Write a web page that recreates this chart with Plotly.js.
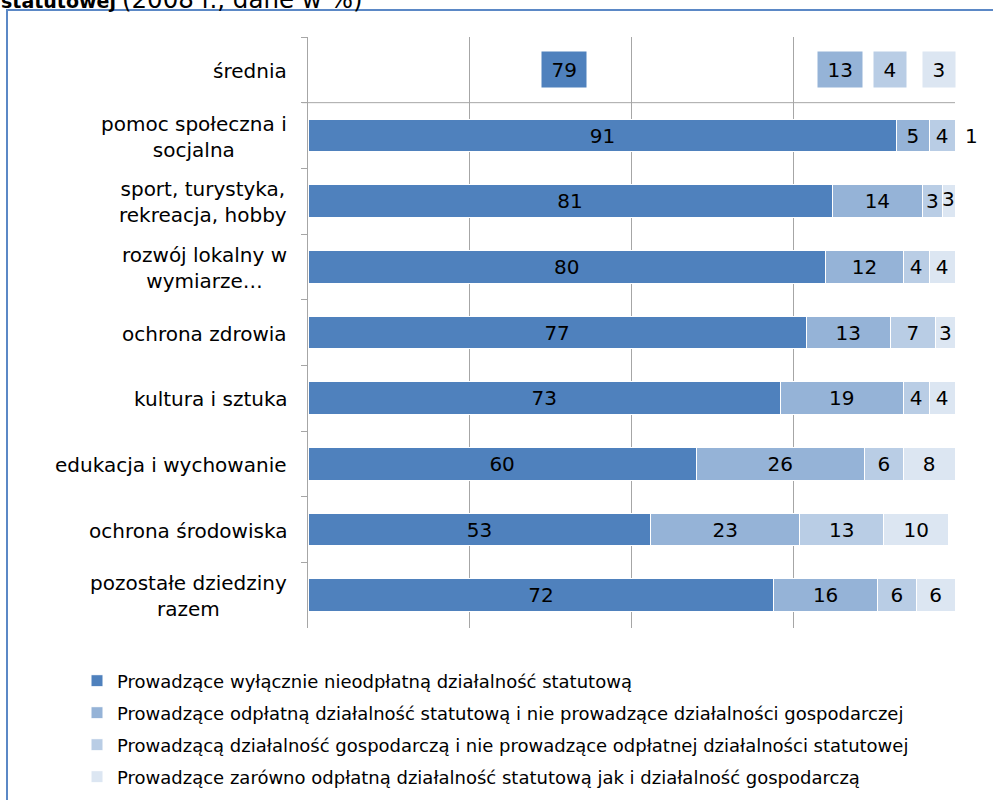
<!DOCTYPE html>
<html><head><meta charset="utf-8">
<script src="https://cdn.plot.ly/plotly-3.0.1.min.js"></script>
<style>html,body{margin:0;padding:0;background:#fff;overflow:hidden}#chart{width:993px;height:820px}</style>
</head><body><div id="chart"></div>
<script>
const categories = ["średnia","pomoc społeczna i<br>socjalna","sport, turystyka,<br>rekreacja, hobby","rozwój lokalny w<br>wymiarze…","ochrona zdrowia","kultura i sztuka","edukacja i wychowanie","ochrona środowiska","pozostałe dziedziny<br>razem"];
const seriesNames = [
  "Prowadzące wyłącznie nieodpłatną działalność statutową",
  "Prowadzące odpłatną działalność statutową i nie prowadzące działalności gospodarczej",
  "Prowadzącą działalność gospodarczą i nie prowadzące odpłatnej działalności statutowej",
  "Prowadzące zarówno odpłatną działalność statutową jak i działalność gospodarczą"
];
const nieodplatna = [79, 91, 81, 80, 77, 73, 60, 53, 72];
const odplatna = [13, 5, 14, 12, 13, 19, 26, 23, 16];
const gospodarcza = [4, 4, 3, 4, 7, 4, 6, 13, 6];
const obie = [3, 1, 3, 4, 3, 4, 8, 10, 6];

const series = [nieodplatna, odplatna, gospodarcza, obie];
const colors = ["#4F81BD", "#95B3D7", "#B9CDE5", "#DCE6F2"];
const FONT = "DejaVu Sans, Verdana, sans-serif";
const AXMAX = 100;
const H = 820, PB = 628, PT = 37, PH = PB - PT;

const barCats = categories.slice(1);
const annotations = [];
const traces = [];
series.forEach((vals, i) => {
  const v = vals.slice(1);
  const txt = [];
  v.forEach((val, j) => {
    let start = 0;
    for (let k = 0; k < i; k++) start += series[k][j + 1];
    if (start + val <= AXMAX) { txt.push(String(val)); return; }
    txt.push("");
    // segment (partly) beyond the axis end: label drawn as annotation
    if (start >= AXMAX) {
      annotations.push({xref: "x", yref: "y", x: AXMAX, y: barCats[j], xanchor: "left", xshift: 8,
        text: String(val), showarrow: false, font: {family: FONT, size: 20, color: "#000"}});
    } else {
      annotations.push({xref: "x", yref: "y", x: (start + AXMAX) / 2, y: barCats[j], yshift: 2,
        text: String(val), showarrow: false, font: {family: FONT, size: 20, color: "#000"}});
    }
  });
  traces.push({
    type: "bar", orientation: "h",
    y: barCats, x: v,
    name: seriesNames[i],
    legendgroup: "g" + i,
    marker: {color: colors[i], line: {color: "#ffffff", width: 1}},
    text: txt,
    textposition: "inside",
    insidetextanchor: "middle",
    textangle: 0,
    constraintext: "none",
    textfont: {family: FONT, size: 20, color: "#000"},
    cliponaxis: true,
    hoverinfo: "skip"
  });
});

// średnia labels: centred on segments, pushed left to avoid overlap
const avg = series.map(s => s[0]);
const centers = [];
let cum = 0;
avg.forEach(v => { centers.push(cum + v / 2); cum += v; });
const minGap = 7.6;
centers[centers.length - 1] = Math.min(centers[centers.length - 1], AXMAX - 2.4);
for (let i = centers.length - 2; i >= 0; i--) {
  centers[i] = Math.min(centers[i], centers[i + 1] - minGap);
}
avg.forEach((v, i) => {
  const s = String(v);
  annotations.push({
    xref: "x", yref: "y", x: centers[i], y: categories[0],
    text: s, showarrow: false,
    bgcolor: colors[i], width: s.length * 12.7 + 17, height: 33,
    font: {family: FONT, size: 20, color: "#000"}
  });
});
categories.forEach(c => {
  annotations.push({
    xref: "paper", yref: "y", x: 0, y: c, xanchor: "right", xshift: -19, yshift: -1,
    align: "center", text: c, showarrow: false,
    font: {family: FONT, size: 20, color: "#000"}
  });
});
annotations.push({
  xref: "paper", yref: "paper", x: -309 / 647, y: (PB - 16) / PH,
  xanchor: "left", yanchor: "bottom", showarrow: false,
  text: "<b>statutowej</b> <span style=\"font-size:24.5px\">(2008 r., dane w %)</span>",
  font: {family: FONT, size: 19, color: "#000"}
});

const layout = {
  width: 993, height: H,
  margin: {l: 308, r: 38, t: PT, b: H - PB},
  paper_bgcolor: "#fff", plot_bgcolor: "#fff",
  font: {family: FONT, color: "#000"},
  barmode: "stack", bargap: 0.5,
  showlegend: true,
  legend: {
    orientation: "v",
    x: -231 / 647, xanchor: "left", y: -34.5 / PH, yanchor: "top",
    font: {family: FONT, size: 18, color: "#000"},
    traceorder: "grouped", tracegroupgap: 5.6, bgcolor: "rgba(0,0,0,0)"
  },
  xaxis: {
    range: [0, AXMAX], tick0: 0, dtick: 25, showgrid: true, gridcolor: "#A6A6A6", gridwidth: 1,
    showticklabels: false, zeroline: false, showline: false, ticks: "", fixedrange: true
  },
  yaxis: {
    type: "category", categoryorder: "array", categoryarray: categories,
    range: [categories.length - 0.5, -0.5],
    showticklabels: false, ticks: "outside", ticklen: 6, tickcolor: "#A6A6A6", tickson: "boundaries",
    showline: true, linecolor: "#A6A6A6", linewidth: 1, showgrid: false, zeroline: false, fixedrange: true
  },
  shapes: [
    {type: "line", xref: "paper", yref: "y", x0: -6 / 647, x1: 1, y0: 0.5, y1: 0.5,
     line: {color: "#A6A6A6", width: 1}},
    {type: "rect", xref: "paper", yref: "paper", x0: -301 / 647, x1: 1.2, y0: -0.4, y1: (PB - 10) / PH,
     line: {color: "#5B88C6", width: 2}, fillcolor: "rgba(0,0,0,0)"}
  ],
  annotations: annotations
};
Plotly.newPlot("chart", traces, layout, {displayModeBar: false, staticPlot: true});
</script>
</body></html>
